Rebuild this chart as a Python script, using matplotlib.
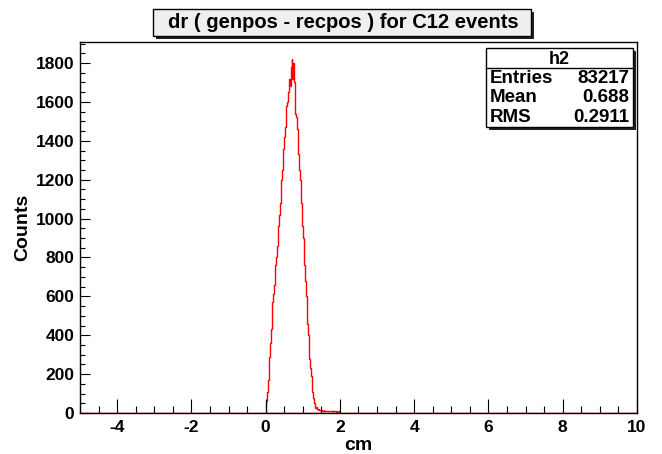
import numpy as np
import matplotlib as mpl
mpl.use('Agg')
import matplotlib.pyplot as plt
from matplotlib.patches import Rectangle
from matplotlib.ticker import MultipleLocator

# histogram "h2": dr between generated and reconstructed position, 0.02 cm bins from 0 to 2
counts = [20, 60, 110, 170, 230, 290, 360, 430, 500, 570,
          610, 660, 700, 760, 800, 860, 920, 960, 1020, 1080,
          1130, 1200, 1250, 1300, 1360, 1420, 1470, 1540, 1580, 1600,
          1650, 1700, 1720, 1680, 1780, 1820, 1720, 1800, 1700, 1580,
          1540, 1520, 1460, 1420, 1330, 1250, 1200, 1140, 1080, 960,
          900, 840, 760, 680, 600, 540, 460, 400, 330, 280,
          230, 190, 150, 110, 75, 50, 35, 28, 30, 22,
          18, 20, 14, 16, 12, 14, 12, 10, 13, 9,
          11, 10, 8, 12, 9, 10, 11, 8, 9, 10,
          7, 9, 8, 10, 9, 7, 8, 9, 10, 6]
hist_lo, hist_hi = 0.0, 2.0
stats_labels = ['Entries', 'Mean', 'RMS']
stats_values = ['83217', '0.688', '0.2911']
title = 'dr ( genpos - recpos ) for C12 events'

plt.rcParams['font.family'] = ['Liberation Sans', 'DejaVu Sans']
plt.rcParams['font.weight'] = 'bold'
plt.rcParams['axes.unicode_minus'] = False

W, H = 662, 454
fig = plt.figure(figsize=(W / 100, H / 100), dpi=100)
ax = fig.add_axes([80 / W, 1 - 413 / H, (637 - 80) / W, (413 - 42) / H])

edges = np.linspace(hist_lo, hist_hi, len(counts) + 1)
ax.plot([-5, 10], [0, 0], color='red', lw=1)
ax.stairs(counts, edges, color='red', lw=1, baseline=0)

ax.set_xlim(-5, 10)
ax.set_ylim(0, 1908)
ax.xaxis.set_major_locator(MultipleLocator(2))
ax.xaxis.set_minor_locator(MultipleLocator(0.5))
ax.yaxis.set_major_locator(MultipleLocator(200))
ax.yaxis.set_minor_locator(MultipleLocator(50))
ax.tick_params(axis='x', which='major', direction='in', length=10, width=0.8, labelsize=12.5, pad=5)
ax.tick_params(axis='x', which='minor', direction='in', length=5, width=0.8)
ax.tick_params(axis='y', which='major', direction='in', length=7, width=0.8, labelsize=12.5, pad=4)
ax.tick_params(axis='y', which='minor', direction='in', length=3.5, width=0.8)
for lab in ax.get_xticklabels() + ax.get_yticklabels():
    lab.set_fontweight('bold')
for s in ax.spines.values():
    s.set_linewidth(1)
    s.set_zorder(5)

ax.set_xlabel('cm', fontsize=14, fontweight='bold')
ax.set_ylabel('Counts', fontsize=14, fontweight='bold')
ax.xaxis.set_label_coords(0.5, -0.066)
ax.yaxis.set_label_coords(-0.088, 0.5)

# title box with shadow (ROOT style)
def fig_rect(x0, y0, x1, y1, **kw):
    r = Rectangle((x0 / W, 1 - y1 / H), (x1 - x0) / W, (y1 - y0) / H,
                  transform=fig.transFigure, **kw)
    fig.patches.append(r)

fig_rect(156, 12, 534, 39, facecolor='#222222', edgecolor='none')
fig_rect(153, 9, 531, 36, facecolor='#efefef', edgecolor='black', lw=1)
fig.text(343 / W, 1 - 22.5 / H, title, ha='center', va='center',
         fontsize=14.5, fontweight='bold')

# stats box
fig_rect(489, 51, 636, 130, facecolor='#222222', edgecolor='none')
fig_rect(486, 48, 633, 127, facecolor='white', edgecolor='black', lw=1)
fig.lines.append(plt.Line2D([486 / W, 633 / W], [1 - 68 / H, 1 - 68 / H],
                            transform=fig.transFigure, color='black', lw=1))
fig.text(559.5 / W, 1 - 59 / H, 'h2', ha='center', va='center', fontsize=13, fontweight='bold')
for i, (lab, val) in enumerate(zip(stats_labels, stats_values)):
    yy = 1 - (78.5 + 19.5 * i) / H
    fig.text(490 / W, yy, lab, ha='left', va='center', fontsize=13.5, fontweight='bold')
    fig.text(629 / W, yy, val, ha='right', va='center', fontsize=13.5, fontweight='bold')

fig.savefig('out.png', dpi=100)
